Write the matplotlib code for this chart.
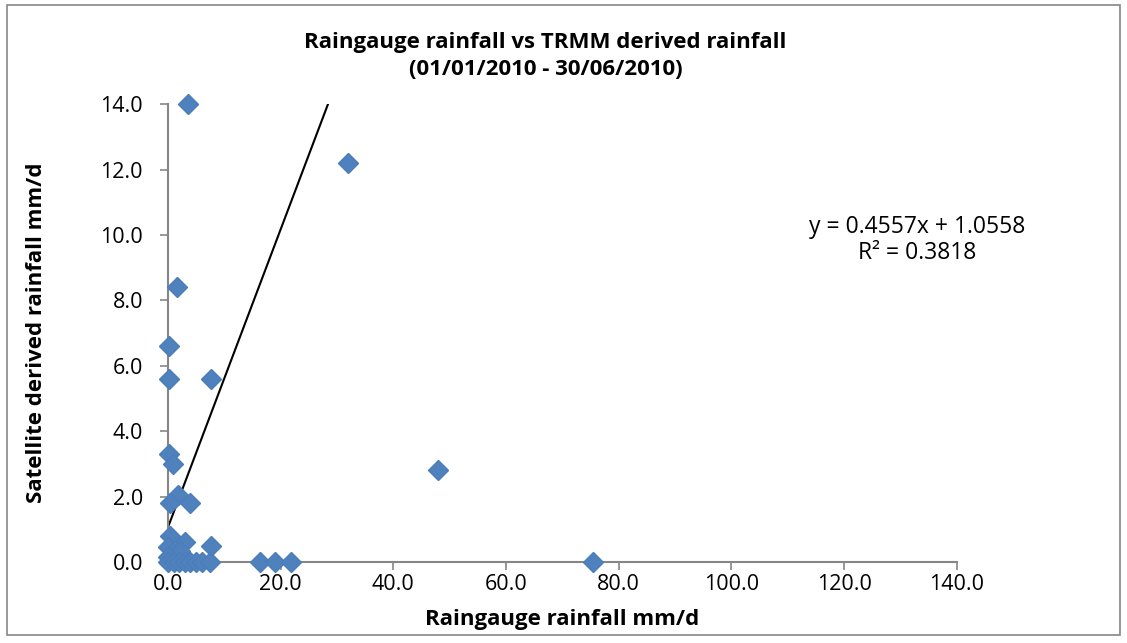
import matplotlib
matplotlib.use("Agg")
import matplotlib.pyplot as plt
import numpy as np
from matplotlib.patches import Rectangle

plt.rcParams['font.family'] = ['Open Sans', 'DejaVu Sans']

# raingauge (x) vs TRMM (y) daily rainfall, mm/d
gauge = [3.5, 31.9, 1.6, 0.2, 0.2, 7.6, 47.9, 0.2, 0.9,
         1.8, 0.3, 3.9, 0.3, 3.0, 7.7, 0.0, 0.9, 2.1, 0.0,
         0.0, 1.0, 2.0, 3.0, 4.0, 5.0, 6.0, 7.5,
         16.3, 19.0, 21.9, 75.4]
trmm = [14.0, 12.2, 8.4, 6.6, 5.6, 5.6, 2.8, 3.3, 3.0,
        2.05, 1.8, 1.8, 0.8, 0.6, 0.5, 0.45, 0.3, 0.35, 0.15,
        0.0, 0.0, 0.0, 0.0, 0.0, 0.0, 0.0, 0.0,
        0.0, 0.0, 0.0, 0.0]
slope = 0.4557
intercept = 1.0558
r2 = 0.3818

fig = plt.figure(figsize=(11.27, 6.43), dpi=100)
ax = fig.add_axes([0.149, 0.126, 0.70, 0.712])

ax.plot(gauge, trmm, linestyle='none', marker='D', markersize=10,
        color='#4F81BD', markeredgecolor='#4A7EBB', clip_on=False, zorder=3)

xs = np.array([0, max(gauge)])
ax.plot(xs, slope * xs + intercept, color='black', linewidth=1.5, zorder=2)

ax.set_xlim(0, 140)
ax.set_ylim(0, 14)
ax.set_xticks(np.arange(0, 141, 20))
ax.set_yticks(np.arange(0, 14.1, 2))
ax.set_xticklabels([f"{v:.1f}" for v in np.arange(0, 141, 20)])
ax.set_yticklabels([f"{v:.1f}" for v in np.arange(0, 14.1, 2)])
ax.tick_params(labelsize=15.5, color='#868686', length=6, width=1.2, direction='out')
ax.tick_params(axis='x', pad=3)
ax.tick_params(axis='y', pad=12)
for s in ['top', 'right']:
    ax.spines[s].set_visible(False)
for s in ['left', 'bottom']:
    ax.spines[s].set_color('#868686')
    ax.spines[s].set_linewidth(1.5)

ax.set_xlabel('Raingauge rainfall mm/d', fontsize=16, fontweight='bold', labelpad=10)
ax.set_ylabel('Satellite derived rainfall mm/d', fontsize=16, fontweight='bold', labelpad=38)
fig.text(0.484, 0.913, 'Raingauge rainfall vs TRMM derived rainfall\n(01/01/2010 - 30/06/2010)',
         ha='center', va='center', fontsize=16, fontweight='bold', linespacing=1.4)
fig.text(0.814, 0.627, f'y = {slope}x + {intercept}\nR² = {r2}',
         ha='center', va='center', fontsize=16.5, linespacing=1.1)

fig.patches.append(Rectangle((0.006, 0.012), 0.988, 0.98, transform=fig.transFigure,
                             fill=False, edgecolor='#868686', linewidth=1.2))

fig.savefig('out.png', dpi=100)
